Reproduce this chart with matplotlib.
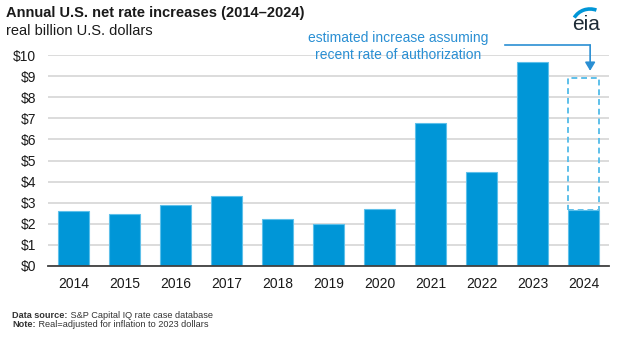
import matplotlib
matplotlib.use("Agg")
import matplotlib.pyplot as plt
from matplotlib.patches import Arc
from matplotlib.lines import Line2D
from matplotlib.text import Annotation

plt.rcParams['font.family'] = ['Liberation Sans', 'DejaVu Sans']

# Annual net rate increases, real billion U.S. dollars (2023 dollars)
years = ["2014", "2015", "2016", "2017", "2018", "2019", "2020",
         "2021", "2022", "2023", "2024"]
net_increase = [2.60, 2.48, 2.91, 3.30, 2.25, 1.98, 2.69, 6.80, 4.44, 9.68, 2.65]
# 2024 full-year estimate assuming recent rate of authorization
estimate_2024 = 8.92
y_ticks = [0, 1, 2, 3, 4, 5, 6, 7, 8, 9, 10]
y_tick_labels = ["$0", "$1", "$2", "$3", "$4", "$5", "$6", "$7", "$8", "$9", "$10"]

BLUE = "#0096d7"
EDGE = "#5ec0ea"
NOTE_BLUE = "#2a8fd3"

W, H = 624, 339
fig = plt.figure(figsize=(W / 100, H / 100), dpi=100)

left, right, top, bottom = 48, 609, 55, 266
ax = fig.add_axes([left / W, 1 - bottom / H, (right - left) / W, (bottom - top) / H])

x = list(range(len(years)))
ax.bar(x, net_increase, width=0.61, color=BLUE, edgecolor=EDGE, linewidth=0.8, zorder=3)

# Dashed outline for the estimated remainder of 2024
last = len(years) - 1
ax.bar([last], [estimate_2024 - net_increase[last]], bottom=[net_increase[last]],
       width=0.61, fill=False, edgecolor=EDGE, linewidth=1.4, linestyle=(0, (3, 2)),
       zorder=4)

ax.set_xlim(-0.5, len(years) - 0.5)
ax.set_ylim(0, 10)
ax.set_yticks(y_ticks)
ax.set_yticklabels(y_tick_labels)
ax.set_xticks(x)
ax.set_xticklabels(years)
ax.tick_params(axis="both", length=0, labelsize=10, colors="#1a1a1a")
ax.tick_params(axis="y", pad=8.5)
ax.tick_params(axis="x", pad=8)
ax.grid(axis="y", color="#d9d9d9", linewidth=1.3, zorder=0)
for s in ["top", "right", "left"]:
    ax.spines[s].set_visible(False)
ax.spines["bottom"].set_color("#404040")
ax.spines["bottom"].set_linewidth(1.3)
ax.spines["bottom"].set_zorder(5)

# Annotation: text and elbow arrow down to the dashed box
ax.text(6.36, 10.39, "estimated increase assuming\nrecent rate of authorization",
        ha="center", va="center", fontsize=10, color=NOTE_BLUE, linespacing=1.25,
        clip_on=False)
ax.add_line(Line2D([8.46, 10.13], [10.47, 10.47], color=NOTE_BLUE, linewidth=1.2,
                   clip_on=False))
ax.annotate("", xy=(10.13, 9.25), xytext=(10.13, 10.47),
            arrowprops=dict(arrowstyle="-|>,head_length=0.5,head_width=0.3",
                            color=NOTE_BLUE, linewidth=1.2, shrinkA=0, shrinkB=0),
            annotation_clip=False)

# Titles
fig.text(6 / W, 1 - 13 / H, "Annual U.S. net rate increases (2014\u20132024)",
         fontsize=10.5, fontweight="bold", ha="left", va="center", color="#1a1a1a")
fig.text(6 / W, 1 - 31 / H, "real billion U.S. dollars",
         fontsize=10.5, ha="left", va="center", color="#1a1a1a")

# Footer notes
src = fig.text(12 / W, 1 - 316 / H, "Data source:", fontsize=6.6, fontweight="bold",
               ha="left", va="center", color="#333333")
fig.add_artist(Annotation(" S&P Capital IQ rate case database",
               xy=(1, 0.5), xycoords=src, va="center", ha="left", fontsize=6.6,
               color="#333333"))
note = fig.text(12 / W, 1 - 324.5 / H, "Note:", fontsize=6.6, fontweight="bold",
                ha="left", va="center", color="#333333")
fig.add_artist(Annotation(" Real=adjusted for inflation to 2023 dollars",
               xy=(1, 0.5), xycoords=note, va="center", ha="left", fontsize=6.6,
               color="#333333"))

# eia logo
logo = fig.add_axes([566 / W, 1 - 32 / H, 40 / W, 28 / H])
logo.set_xlim(0, 40)
logo.set_ylim(0, 28)
logo.axis("off")
logo.text(20, 8, "eia", fontsize=15, ha="center", va="center", color="#1d2b36")
logo.add_patch(Arc((24, 6), 36, 34, theta1=68, theta2=152, color="#0096d7",
                   linewidth=2.6))

fig.savefig("out.png", dpi=100, facecolor="white")
